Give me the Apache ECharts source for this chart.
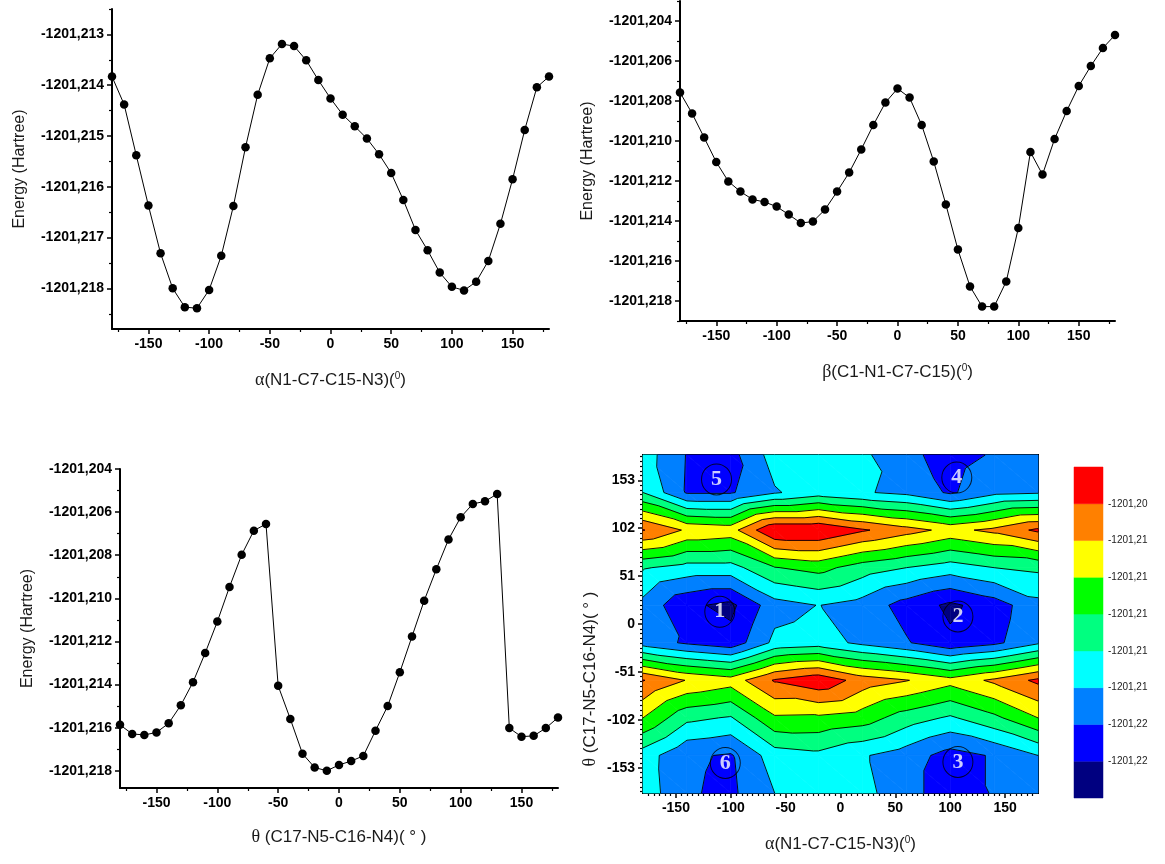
<!DOCTYPE html>
<html>
<head>
<meta charset="utf-8">
<script src="https://cdn.jsdelivr.net/npm/echarts@6/dist/echarts.min.js"></script>
<style>
  html, body { margin: 0; padding: 0; background: #fff; }
  #chart { width: 1165px; height: 864px; }
</style>
</head>
<body>
<div id="chart"></div>
<script>
// Torsion scans: relative energy versus dihedral angle (10 degree steps)
const dihedralAngles = [-180, -170, -160, -150, -140, -130, -120, -110, -100, -90, -80, -70, -60, -50, -40, -30, -20, -10,
  0, 10, 20, 30, 40, 50, 60, 70, 80, 90, 100, 110, 120, 130, 140, 150, 160, 170, 180];

// alpha (N1-C7-C15-N3) scan
const energyAlpha = [-1201.21383, -1201.21438, -1201.21538, -1201.21637, -1201.21731, -1201.21800, -1201.21837, -1201.21839,
  -1201.21803, -1201.21736, -1201.21638, -1201.21522, -1201.21419, -1201.21347, -1201.21319, -1201.21323, -1201.21351,
  -1201.21390, -1201.21426, -1201.21458, -1201.21481, -1201.21505, -1201.21536, -1201.21573, -1201.21626, -1201.21685,
  -1201.21725, -1201.21769, -1201.21797, -1201.21804, -1201.21787, -1201.21746, -1201.21673, -1201.21585, -1201.21488,
  -1201.21404, -1201.21383];

// beta (C1-N1-C7-C15) scan
const energyBeta = [-1201.20757, -1201.20862, -1201.20983, -1201.21105, -1201.21202, -1201.21253, -1201.21292, -1201.21305,
  -1201.21328, -1201.21368, -1201.21410, -1201.21403, -1201.21343, -1201.21253, -1201.21158, -1201.21042, -1201.20920,
  -1201.20808, -1201.20738, -1201.20783, -1201.20920, -1201.21103, -1201.21317, -1201.21543, -1201.21727, -1201.21828,
  -1201.21828, -1201.21702, -1201.21435, -1201.21055, -1201.21168, -1201.20990, -1201.20850, -1201.20725, -1201.20625,
  -1201.20535, -1201.20470];

// theta (C17-N5-C16-N4) scan
const energyTheta = [-1201.21587, -1201.21629, -1201.21634, -1201.21622, -1201.21580, -1201.21496, -1201.21389, -1201.21254,
  -1201.21108, -1201.20947, -1201.20798, -1201.20686, -1201.20655, -1201.21406, -1201.21560, -1201.21721, -1201.21785,
  -1201.21800, -1201.21773, -1201.21755, -1201.21731, -1201.21614, -1201.21500, -1201.21343, -1201.21177, -1201.21011,
  -1201.20865, -1201.20727, -1201.20624, -1201.20562, -1201.20550, -1201.20516, -1201.21602, -1201.21642, -1201.21638,
  -1201.21602, -1201.21553];

// 2D surface: alpha columns, theta rows (top row = +180)
const surfaceAlpha = [-180, -140, -100, -60, -20, 20, 60, 100, 140, 180];
const surfaceTheta = [180, 140, 100, 60, 20, -20, -60, -100, -140, -180];
const surfaceEnergy = [
  [-1201.2130, -1201.2161, -1201.2167, -1201.2131, -1201.2128, -1201.2136, -1201.2155, -1201.2168, -1201.2158, -1201.2150],
  [-1201.2120, -1201.2162, -1201.2162, -1201.2142, -1201.2130, -1201.2138, -1201.2145, -1201.2163, -1201.2145, -1201.2142],
  [-1201.2039, -1201.2063, -1201.2068, -1201.2020, -1201.2020, -1201.20375, -1201.2052, -1201.2066, -1201.2055, -1201.2036],
  [-1201.2118, -1201.2128, -1201.2128, -1201.2101, -1201.2093, -1201.2110, -1201.2120, -1201.2130, -1201.2120, -1201.2116],
  [-1201.2146, -1201.2176, -1201.2185, -1201.2148, -1201.21395, -1201.2148, -1201.2168, -1201.2184, -1201.2170, -1201.2146],
  [-1201.2149, -1201.2163, -1201.2173, -1201.2135, -1201.2130, -1201.2145, -1201.2158, -1201.2176, -1201.2165, -1201.2143],
  [-1201.2039, -1201.2061, -1201.2071, -1201.2038, -1201.2025, -1201.2049, -1201.2059, -1201.2073, -1201.2056, -1201.20355],
  [-1201.2080, -1201.2115, -1201.2122, -1201.2083, -1201.2084, -1201.2090, -1201.2110, -1201.2123, -1201.2105, -1201.2080],
  [-1201.2130, -1201.2157, -1201.2162, -1201.2130, -1201.2125, -1201.2138, -1201.2150, -1201.2168, -1201.2158, -1201.2140],
  [-1201.2128, -1201.2158, -1201.2164, -1201.2140, -1201.2130, -1201.2135, -1201.2150, -1201.2175, -1201.2158, -1201.2150]
];

// Contour levels (low to high) and fill colours of the bands between them
const contourLevels = [-1201.218, -1201.216, -1201.214, -1201.212, -1201.210, -1201.208, -1201.206, -1201.204];
const bandColors = ['#000080', '#0000FF', '#0080FF', '#00FFFF', '#00FF80', '#00FF00', '#FFFF00', '#FF8000', '#FF0000'];
const colorbarRange = [-1201.220, -1201.202];

// Located minima on the surface
const minimaNames = ['1', '2', '3', '4', '5', '6'];
const minimaAlpha = [-110, 107, 107, 106, -113, -105];
const minimaTheta = [13, 8, -147, 156, 154, -148];

// Axis ticks
const angleTicks = [-150, -100, -50, 0, 50, 100, 150];
const angleMinorTicks = [-175, -125, -75, -25, 25, 75, 125, 175];
const energyTicksAlpha = [-1201.218, -1201.217, -1201.216, -1201.215, -1201.214, -1201.213];
const energyMinorAlpha = [-1201.2185, -1201.2175, -1201.2165, -1201.2155, -1201.2145, -1201.2135, -1201.2125];
const energyTicksWide = [-1201.218, -1201.216, -1201.214, -1201.212, -1201.210, -1201.208, -1201.206, -1201.204];
const energyMinorWide = [-1201.219, -1201.217, -1201.215, -1201.213, -1201.211, -1201.209, -1201.207, -1201.205, -1201.203];
const mapThetaTicks = [-153, -102, -51, 0, 51, 102, 153];
const mapAlphaMinor = [];
for (let a = -175; a <= 175; a += 5) if (a % 50 !== 0) mapAlphaMinor.push(a);
const mapThetaMinor = [];
for (let k = -35; k <= 35; k++) if (k % 10 !== 0) mapThetaMinor.push(+(k * 5.1).toFixed(1));

const SANS = '"Liberation Sans", Arial, Helvetica, sans-serif';
const SERIF = '"Liberation Serif", "Times New Roman", serif';

const energyFmt3 = v => v.toFixed(3).replace('.', ',');
const energyFmt2 = v => v.toFixed(2).replace('.', ',');

function titleStyle(size, extra) {
  return Object.assign({
    fontFamily: SANS, fontSize: size, color: '#1a1a1a',
    rich: {
      g: { fontFamily: SERIF, fontSize: size + 1, color: '#1a1a1a' },
      s: { fontFamily: SANS, fontSize: Math.round(size * 0.6), color: '#1a1a1a', verticalAlign: 'top', padding: [0, 0, 6, 0] }
    }
  }, extra || {});
}

function majorAxis(gridIndex, min, max, ticks, fmt, extra) {
  return Object.assign({
    type: 'value', gridIndex, min, max, scale: true,
    splitLine: { show: false },
    axisLine: { show: true, onZero: false, lineStyle: { color: '#000', width: 2 } },
    axisTick: { show: true, inside: false, length: 5, customValues: ticks, lineStyle: { color: '#000', width: 1.5 } },
    axisLabel: {
      show: true, customValues: ticks, formatter: fmt, margin: 8,
      color: '#000', fontFamily: SANS, fontWeight: 'bold', fontSize: 14
    }
  }, extra || {});
}

function minorAxis(gridIndex, min, max, ticks, position, len) {
  return {
    type: 'value', gridIndex, min, max, scale: true, position,
    splitLine: { show: false },
    axisLine: { show: false, onZero: false },
    axisTick: { show: true, inside: false, length: len || 3, customValues: ticks, lineStyle: { color: '#000', width: 1.2 } },
    axisLabel: { show: false }
  };
}

const grids = [
  { left: 112, top: 9, width: 437, height: 320 },
  { left: 680, top: 1, width: 435, height: 320 },
  { left: 120, top: 469, width: 438, height: 319 },
  { left: 643, top: 455, width: 395, height: 338, show: true, borderColor: '#000', borderWidth: 2 },
  { left: 1074, top: 467, width: 29, height: 331 }
].map(g => Object.assign({ outerBoundsMode: 'none', containLabel: false }, g));

const angleFmt = v => String(v);

const xAxes = [
  // 0,1 : alpha scan
  majorAxis(0, -180, 180, angleTicks, angleFmt, {
    position: 'bottom', name: '{g|α}(N1-C7-C15-N3)({s|0})', nameLocation: 'middle', nameGap: 42, nameTextStyle: titleStyle(17)
  }),
  minorAxis(0, -180, 180, angleMinorTicks, 'bottom'),
  // 2,3 : beta scan
  majorAxis(1, -180, 180, angleTicks, angleFmt, {
    position: 'bottom', name: '{g|β}(C1-N1-C7-C15)({s|0})', nameLocation: 'middle', nameGap: 42, nameTextStyle: titleStyle(17)
  }),
  minorAxis(1, -180, 180, angleMinorTicks, 'bottom'),
  // 4,5 : theta scan
  majorAxis(2, -180, 180, angleTicks, angleFmt, {
    position: 'bottom', name: '{g|θ} (C17-N5-C16-N4)( ° )', nameLocation: 'middle', nameGap: 40, nameTextStyle: titleStyle(17)
  }),
  minorAxis(2, -180, 180, angleMinorTicks, 'bottom'),
  // 6,7 : surface
  majorAxis(3, -180, 180, angleTicks, angleFmt, {
    position: 'bottom', name: '{g|α}(N1-C7-C15-N3)({s|0})', nameLocation: 'middle', nameGap: 42, nameTextStyle: titleStyle(17)
  }),
  minorAxis(3, -180, 180, mapAlphaMinor, 'bottom', 3),
  // 8 : colour bar
  { type: 'value', gridIndex: 4, min: 0, max: 1, show: false }
];

const yAxes = [
  majorAxis(0, -1201.2188, -1201.2125, energyTicksAlpha, energyFmt3, {
    position: 'left', name: 'Energy (Hartree)', nameLocation: 'middle', nameGap: 84, nameRotate: 90,
    nameTextStyle: { fontFamily: SANS, fontSize: 16, color: '#1a1a1a' }
  }),
  minorAxis(0, -1201.2188, -1201.2125, energyMinorAlpha, 'left'),
  majorAxis(1, -1201.219, -1201.203, energyTicksWide, energyFmt3, {
    position: 'left', name: 'Energy (Hartree)', nameLocation: 'middle', nameGap: 84, nameRotate: 90,
    nameTextStyle: { fontFamily: SANS, fontSize: 16, color: '#1a1a1a' }
  }),
  minorAxis(1, -1201.219, -1201.203, energyMinorWide, 'left'),
  majorAxis(2, -1201.2188, -1201.204, energyTicksWide, energyFmt3, {
    position: 'left', name: 'Energy (Hartree)', nameLocation: 'middle', nameGap: 84, nameRotate: 90,
    nameTextStyle: { fontFamily: SANS, fontSize: 16, color: '#1a1a1a' }
  }),
  minorAxis(2, -1201.2188, -1201.204, energyMinorWide.filter(v => v >= -1201.2188 && v <= -1201.204), 'left'),
  majorAxis(3, -180, 180, mapThetaTicks, angleFmt, {
    position: 'left', name: '{g|θ} (C17-N5-C16-N4)( ° )', nameLocation: 'middle', nameGap: 44, nameRotate: 90,
    nameTextStyle: titleStyle(17, { padding: [0, 110, 0, 0] })
  }),
  minorAxis(3, -180, 180, mapThetaMinor, 'left', 3),
  {
    type: 'value', gridIndex: 4, min: colorbarRange[0], max: colorbarRange[1], position: 'right',
    splitLine: { show: false }, axisLine: { show: false }, axisTick: { show: false },
    axisLabel: {
      show: true, customValues: contourLevels, formatter: energyFmt2, margin: 5,
      color: '#222', fontFamily: SANS, fontSize: 10
    }
  }
];

function scanSeries(axisIndex, values) {
  return {
    type: 'line', xAxisIndex: axisIndex * 2, yAxisIndex: axisIndex * 2,
    data: dihedralAngles.map((a, i) => [a, values[i]]),
    symbol: 'circle', symbolSize: 8.5, showSymbol: true,
    itemStyle: { color: '#000', borderWidth: 0 },
    lineStyle: { color: '#000', width: 1 },
    clip: true, z: 5
  };
}

// --- contouring of the surface on a triangulated grid ---
function node(r, c) {
  return { a: surfaceAlpha[c], t: surfaceTheta[r], e: surfaceEnergy[r][c] };
}
function cellTriangles(c, r) {
  const tl = node(r, c), tr = node(r, c + 1), bl = node(r + 1, c), br = node(r + 1, c + 1);
  return [[tl, tr, br], [tl, br, bl]];
}
function lerp(p, q, L) {
  const k = (L - p.e) / (q.e - p.e);
  return { a: p.a + k * (q.a - p.a), t: p.t + k * (q.t - p.t), e: L };
}
function clipPoly(poly, L, keepAbove) {
  const out = [];
  for (let i = 0; i < poly.length; i++) {
    const p = poly[i], q = poly[(i + 1) % poly.length];
    const pin = keepAbove ? p.e >= L : p.e <= L;
    const qin = keepAbove ? q.e >= L : q.e <= L;
    if (pin) out.push(p);
    if (pin !== qin) out.push(lerp(p, q, L));
  }
  return out;
}

const surfaceCells = [];
for (let r = 0; r < surfaceTheta.length - 1; r++) {
  for (let c = 0; c < surfaceAlpha.length - 1; c++) {
    surfaceCells.push([surfaceAlpha[c], surfaceTheta[r], c, r]);
  }
}

const contourFill = {
  type: 'custom', xAxisIndex: 6, yAxisIndex: 6, z: 2, silent: true,
  data: surfaceCells,
  renderItem: (params, api) => {
    const c = api.value(2), r = api.value(3);
    const children = [];
    cellTriangles(c, r).forEach(tri => {
      for (let k = 0; k < bandColors.length; k++) {
        let poly = tri;
        if (k > 0) poly = clipPoly(poly, contourLevels[k - 1], true);
        if (poly.length >= 3 && k < contourLevels.length) poly = clipPoly(poly, contourLevels[k], false);
        if (poly.length >= 3) {
          children.push({
            type: 'polygon',
            shape: { points: poly.map(p => api.coord([p.a, p.t])) },
            style: { fill: bandColors[k], stroke: bandColors[k], lineWidth: 0.7 }
          });
        }
      }
    });
    return { type: 'group', children };
  }
};

const contourLines = {
  type: 'custom', xAxisIndex: 6, yAxisIndex: 6, z: 3, silent: true,
  data: surfaceCells,
  renderItem: (params, api) => {
    const c = api.value(2), r = api.value(3);
    const children = [];
    cellTriangles(c, r).forEach(tri => {
      contourLevels.forEach(L => {
        const pts = [];
        for (let i = 0; i < 3; i++) {
          const p = tri[i], q = tri[(i + 1) % 3];
          if ((p.e >= L) !== (q.e >= L)) pts.push(lerp(p, q, L));
        }
        if (pts.length === 2) {
          const a = api.coord([pts[0].a, pts[0].t]), b = api.coord([pts[1].a, pts[1].t]);
          children.push({
            type: 'line',
            shape: { x1: a[0], y1: a[1], x2: b[0], y2: b[1] },
            style: { stroke: '#000', lineWidth: 0.9 }
          });
        }
      });
    });
    return { type: 'group', children };
  }
};

const minimaMarks = {
  type: 'scatter', xAxisIndex: 6, yAxisIndex: 6, z: 6, silent: true,
  data: minimaNames.map((n, i) => ({ value: [minimaAlpha[i], minimaTheta[i]], name: n })),
  symbol: 'circle', symbolSize: [30, 31],
  itemStyle: { color: 'rgba(0,0,0,0)', borderColor: '#000', borderWidth: 1 },
  label: {
    show: true, position: 'inside', formatter: p => p.name,
    color: '#fff', fontFamily: SERIF, fontWeight: 'bold', fontSize: 22
  }
};

const colorbarBands = bandColors.map((col, k) => [k,
  k === 0 ? colorbarRange[0] : contourLevels[k - 1],
  k === contourLevels.length ? colorbarRange[1] : contourLevels[k]]);

const colorbar = {
  type: 'custom', xAxisIndex: 8, yAxisIndex: 8, silent: true,
  data: colorbarBands,
  renderItem: (params, api) => {
    const k = api.value(0);
    const p0 = api.coord([0, api.value(1)]), p1 = api.coord([1, api.value(2)]);
    return {
      type: 'rect',
      shape: { x: p0[0], y: p1[1], width: p1[0] - p0[0], height: p0[1] - p1[1] },
      style: { fill: bandColors[k], stroke: bandColors[k], lineWidth: 0.5 }
    };
  }
};

const chart = echarts.init(document.getElementById('chart'), null, { renderer: 'canvas' });
chart.setOption({
  animation: false,
  backgroundColor: '#fff',
  grid: grids,
  xAxis: xAxes,
  yAxis: yAxes,
  series: [
    scanSeries(0, energyAlpha),
    scanSeries(1, energyBeta),
    scanSeries(2, energyTheta),
    contourFill, contourLines, minimaMarks, colorbar
  ]
});
</script>
</body>
</html>
